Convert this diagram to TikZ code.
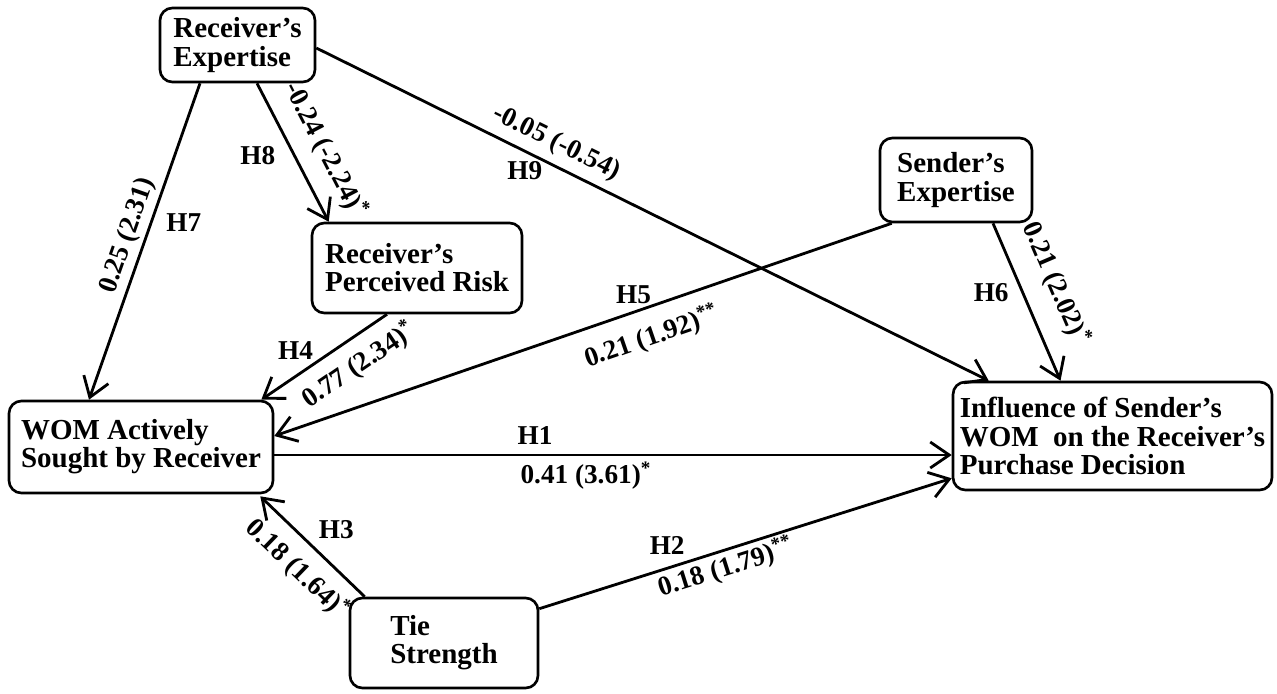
\documentclass[tikz,border=0pt]{standalone}
\usepackage{fontspec}
\setmainfont{Liberation Serif}
\usetikzlibrary{arrows.meta,positioning,calc}

\begin{document}
\begin{tikzpicture}[
    x=0.02cm, y=-0.02cm,
    box/.style={draw, line width=1.5pt, rounded corners=7pt, align=left, inner sep=2pt, font=\fontsize{16.5}{16}\selectfont\bfseries},
    arr/.style={-{Straight Barb[length=0.38cm,width=0.52cm]}, line width=1.6pt},
    lbl/.style={font=\fontsize{15.5}{16}\selectfont\bfseries, inner sep=1pt}
  ]
    \useasboundingbox (0,0) rectangle (1277,693);
    \node[box, minimum width=3.1cm, minimum height=1.48cm] (recexp) at (237.5,45) {Receiver's\\Expertise};
    \node[box, minimum width=4.2cm, minimum height=1.8cm] (recrisk) at (417,268) {Receiver's\\Perceived Risk};
    \node[box, minimum width=3.04cm, minimum height=1.68cm] (sendexp) at (956,180) {Sender's\\Expertise};
    \node[box, minimum width=5.28cm, minimum height=1.84cm] (wom) at (141,447) {WOM Actively\\Sought by Receiver};
    \node[box, minimum width=6.38cm, minimum height=2.16cm] (infl) at (1112.5,436) {Influence of Sender's\\WOM~ on the Receiver's\\Purchase Decision};
    \node[box, minimum width=3.76cm, minimum height=1.8cm] (tie) at (444,643) {Tie\\Strength};
    \draw[arr] ($(recexp.south)+(-37.5,0)$) -- node[lbl, sloped, above, inner ysep=0.08cm, pos=0.5] {0.25 (2.31)} node[lbl, right=0.24cm, pos=0.44] {H7} ($(wom.north)+(-52,0)$);
    \draw[arr] ($(recexp.south)+(19.5,0)$) -- node[lbl, sloped, above, inner ysep=0.3cm, pos=0.58] {-0.24 (-2.24)\textsuperscript{*}} node[lbl, left=0.32cm, pos=0.52] {H8} ($(recrisk.north west)+(18,0)$);
    \draw[arr] ($(recexp.east)+(0,3)$) -- node[lbl, sloped, above, inner ysep=0.15cm, pos=0.343] {-0.05 (-0.54)} node[lbl, below=0.14cm, pos=0.31] {H9} ($(infl.north west)+(37,0)$);
    \draw[arr] ($(recrisk.south)+(-30,0)$) -- node[lbl, sloped, below, inner ysep=0.22cm, pos=0.34] {0.77 (2.34)\textsuperscript{*}} node[lbl, left=0.36cm, pos=0.42] {H4} ($(wom.north east)+(-13,0)$);
    \draw[arr] ($(sendexp.south west)+(13,0)$) -- node[lbl, sloped, below, inner ysep=0.28cm, pos=0.404] {0.21 (1.92)\textsuperscript{**}} node[lbl, above=0.1cm, pos=0.418] {H5} ($(wom.east)+(0,-11)$);
    \draw[arr] ($(sendexp.south)+(37,0)$) -- node[lbl, sloped, above, inner ysep=0.38cm, pos=0.466] {0.21 (2.02)\textsuperscript{*}} node[lbl, left=0.22cm, pos=0.44] {H6} ($(infl.north)+(-52,0)$);
    \draw[arr] ($(wom.east)+(0,8)$) -- node[lbl, above=0.14cm, pos=0.385] {H1} node[lbl, below=0.08cm, pos=0.46] {0.41 (3.61)\textsuperscript{*}} ($(infl.west)+(0,19)$);
    \draw[arr] ($(tie.north east)+(0,12)$) -- node[lbl, above=0.22cm, pos=0.31] {H2} node[lbl, sloped, below, inner ysep=0.04cm, pos=0.44] {0.18 (1.79)\textsuperscript{**}} ($(infl.south west)+(0,-13)$);
    \draw[arr] ($(tie.north west)+(16,0)$) -- node[lbl, right=0.42cm, pos=0.67] {H3} node[lbl, sloped, below, inner ysep=0.23cm, pos=0.466] {0.18 (1.64)\textsuperscript{*}} ($(wom.south east)+(-14,2)$);
\end{tikzpicture}
\end{document}
